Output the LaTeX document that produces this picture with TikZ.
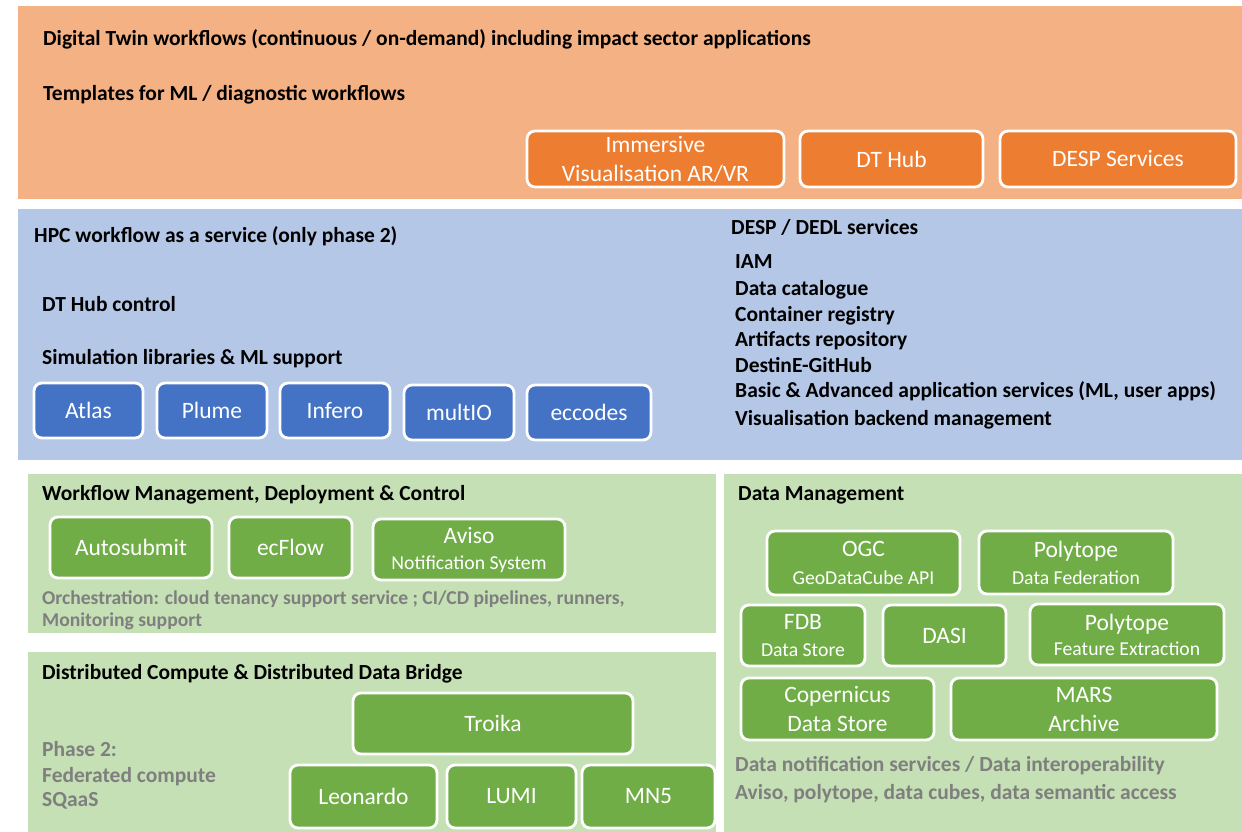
\documentclass[tikz,border=0pt]{standalone}
\usepackage{fontspec}
\setmainfont{Carlito}
\definecolor{orP}{HTML}{F4B183}
\definecolor{orB}{HTML}{ED7D31}
\definecolor{blP}{HTML}{B4C7E7}
\definecolor{blB}{HTML}{4472C4}
\definecolor{grP}{HTML}{C5E0B4}
\definecolor{grB}{HTML}{70AD47}
\definecolor{grT}{HTML}{7F7F7F}
\newcommand{\smallline}[1]{{\fontsize{19.7}{23}\selectfont #1}}
\begin{document}
\begin{tikzpicture}[x=1pt,y=-1pt,
  bx/.style={draw=white, line width=2.8pt, rounded corners=8pt, text=white, align=center, inner sep=0pt, font=\fontsize{23.5}{29}\selectfont},
  ob/.style={bx, fill=orB}, bb/.style={bx, fill=blB}, gb/.style={bx, fill=grB},
  hd/.style={anchor=base west, inner sep=0pt, font=\bfseries\fontsize{21.5}{26}\selectfont},
  gt/.style={hd, text=grT},
  gts/.style={gt, font=\bfseries\fontsize{19.6}{24}\selectfont}]
\useasboundingbox (0,0) rectangle (1242,832);
\fill[white] (0,0) rectangle (1242,832);
% panels
\fill[orP] (18,6) rectangle (1242,199);
\fill[blP] (18,209) rectangle (1242,460);
\fill[grP] (28,474) rectangle (716,633);
\fill[grP] (28,652) rectangle (716,832);
\fill[grP] (724,474) rectangle (1242,832);
% orange panel
\node[hd] (t1) at (43,46) {Digital Twin workflows (continuous / on-demand) including impact sector applications};
\node[hd] (t2) at (43,101) {Templates for ML / diagnostic workflows};
\node[ob, minimum width=257, minimum height=56] (imm) at (655.5,159) {Immersive\\[0pt]Visualisation AR/VR};
\node[ob, minimum width=183, minimum height=56] (dthub) at (891.5,159) {DT Hub};
\node[ob, minimum width=236, minimum height=56] (desp) at (1118,159) {DESP Services};
% blue panel
\node[hd] (hpc) at (34,242) {HPC workflow as a service (only phase 2)};
\node[hd] (dtc) at (42,311) {DT Hub control};
\node[hd] (sim) at (42,364) {Simulation libraries \& ML support};
\node[bb, minimum width=109, minimum height=55] (atlas) at (88.5,410.5) {Atlas};
\node[bb, minimum width=110, minimum height=55] (plume) at (212,410.5) {Plume};
\node[bb, minimum width=110, minimum height=55] (infero) at (335,410.5) {Infero};
\node[bb, minimum width=110, minimum height=55] (multio) at (459,412.5) {multIO};
\node[bb, minimum width=124, minimum height=55] (eccodes) at (589,412.5) {eccodes};
\node[hd] (dedl) at (731,234) {DESP / DEDL services};
\node[hd] (l1) at (735,268) {IAM};
\node[hd] (l2) at (735,295) {Data catalogue};
\node[hd] (l3) at (735,321) {Container registry};
\node[hd] (l4) at (735,346) {Artifacts repository};
\node[hd] (l5) at (735,372) {DestinE-GitHub};
\node[hd] (l6) at (735,397) {Basic \& Advanced application services (ML, user apps)};
\node[hd] (l7) at (735,425) {Visualisation backend management};
% workflow management
\node[hd] (wfm) at (42,500) {Workflow Management, Deployment \& Control};
\node[gb, minimum width=162, minimum height=61] (autosubmit) at (131,547.5) {Autosubmit};
\node[gb, minimum width=123, minimum height=61] (ecflow) at (290.5,547.5) {ecFlow};
\node[gb, minimum width=192, minimum height=61] (aviso) at (469,549.5) {Aviso\\[-3pt]\smallline{Notification System}};
\node[gts] (orch) at (42,604) {Orchestration: cloud tenancy support service ; CI/CD pipelines, runners,};
\node[gts] (mon) at (42,626) {Monitoring support};
% distributed compute
\node[hd] (dc) at (42,679) {Distributed Compute \& Distributed Data Bridge};
\node[gb, minimum width=280, minimum height=61] (troika) at (493,723.5) {Troika};
\node[gb, minimum width=147, minimum height=63] (leonardo) at (363.5,796.5) {Leonardo};
\node[gb, minimum width=129, minimum height=63] (lumi) at (511.5,796.5) {LUMI};
\node[gb, minimum width=133, minimum height=63] (mn5) at (648.5,796.5) {MN5};
\node[gt] (ph1) at (42,756) {Phase 2:};
\node[gt] (ph2) at (42,782) {Federated compute};
\node[gt] (ph3) at (42,806) {SQaaS};
% data management
\node[hd] (dm) at (738,500) {Data Management};
\node[gb, minimum width=193, minimum height=64] (ogc) at (863.5,563) {OGC\\[-1pt]\smallline{GeoDataCube API}};
\node[gb, minimum width=194, minimum height=63] (polydf) at (1076,562.5) {Polytope\\[-2pt]\smallline{Data Federation}};
\node[gb, minimum width=124, minimum height=61] (fdb) at (803,635.5) {FDB\\[-2pt]\smallline{Data Store}};
\node[gb, minimum width=123, minimum height=61] (dasi) at (944.5,635.5) {DASI};
\node[gb, minimum width=194, minimum height=61] (polyfe) at (1127,634.5) {Polytope\\[-4pt]\smallline{Feature Extraction}};
\node[gb, minimum width=193, minimum height=62] (cop) at (837.5,709) {Copernicus\\[0pt]Data Store};
\node[gb, minimum width=266, minimum height=62] (mars) at (1084,709) {MARS\\[0pt]Archive};
\node[gt] (dn1) at (735,771) {Data notification services / Data interoperability};
\node[gt] (dn2) at (735,799) {Aviso, polytope, data cubes, data semantic access};
\end{tikzpicture}
\end{document}
